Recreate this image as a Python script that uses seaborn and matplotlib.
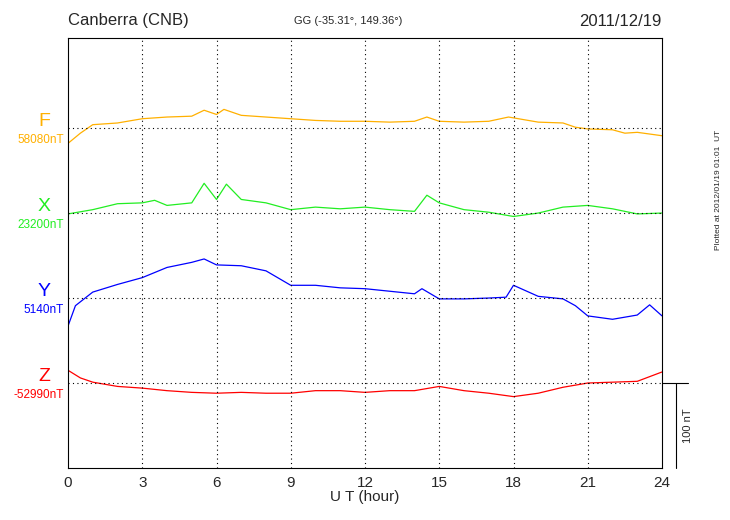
import matplotlib
matplotlib.use("Agg")
import matplotlib.pyplot as plt
import seaborn as sns
import pandas as pd

sns.set_style("white")
plt.rcParams['font.family'] = ['Liberation Sans', 'DejaVu Sans']

f_hours = [0,0.5,1,2,3,4,5,5.5,6,6.3,7,8,9,10,11,12,13,14,14.5,15,16,17,17.8,18,19,20,20.5,21,22,22.5,23,24]
f_vals = [-18,-6,4,6,11,13,14,21,16,22,15,13,11,9,8,8,7,8,13,8,7,8,13,12,7,6,1,-1,-2,-6,-5,-9]
x_hours = [0,1,2,3,3.5,4,5,5.5,6,6.4,7,8,9,10,11,12,13,14,14.5,15,16,17,18,19,20,21,22,23,24]
x_vals = [-1,4,11,12,15,9,12,35,16,34,16,12,4,7,5,7,4,2,21,12,4,1,-4,0,7,9,5,-1,0]
y_hours = [0,0.3,1,2,3,4,5,5.5,6,7,8,9,10,11,12,13,14,14.3,15,16,17,17.7,18,19,20,20.5,21,22,23,23.5,24]
y_vals = [-33,-9,7,16,24,36,42,46,39,38,32,15,15,12,11,8,5,11,-1,-1,0,1,15,2,-1,-9,-21,-25,-20,-8,-21]
z_hours = [0,0.5,1,2,3,4,5,6,7,8,9,10,11,12,13,14,15,16,17,18,19,20,21,22,23,24]
z_vals = [15,6,1,-4,-6,-9,-11,-12,-11,-12,-12,-9,-9,-11,-9,-9,-4,-9,-12,-16,-12,-5,0,1,2,13]

components = ["F", "X", "Y", "Z"]
baselines = ["58080nT", "23200nT", "5140nT", "-52990nT"]
colors = ["#ffb000", "#22ee22", "#0000ff", "#ff0000"]
offsets = [400, 300, 200, 100]
series = [(f_hours, f_vals), (x_hours, x_vals), (y_hours, y_vals), (z_hours, z_vals)]

fig = plt.figure(figsize=(7.3, 5.2), dpi=100)
ax = fig.add_axes([68/730, 52/520, 594/730, 430/520])
for (h, v), off, c in zip(series, offsets, colors):
    df = pd.DataFrame({"h": h, "v": [val + off for val in v]})
    sns.lineplot(data=df, x="h", y="v", color=c, lw=0.9, ax=ax)
    ax.axhline(off, color="black", ls=(0, (1, 3)), lw=0.8)
for xv in range(3, 24, 3):
    ax.axvline(xv, color="black", ls=(0, (1, 3)), lw=0.8)
ax.set_xlim(0, 24)
ax.set_ylim(0, 506)
ax.set_xticks(range(0, 25, 3))
ax.set_xticks(range(0, 25), minor=True)
ax.set_yticks(range(0, 507, 20))
ax.set_yticklabels([])
ax.tick_params(axis="both", which="both", direction="in", length=5, color="black", width=0.8)
ax.tick_params(axis="x", labelsize=11, pad=6)
ax.set_xlabel("U T (hour)", fontsize=11, labelpad=0)
ax.set_ylabel("")
for s in ax.spines.values():
    s.set_color("black"); s.set_linewidth(0.8)

for comp, base, c, off in zip(components, baselines, colors, offsets):
    y_fig = (52 + off * 430 / 506) / 520
    fig.text(44/730, y_fig + 7/520, comp, color=c, fontsize=14, ha="center", va="center")
    fig.text(64/730, y_fig - 12/520, base, color=c, fontsize=8.5, ha="right", va="center")

fig.text(68/730, 1 - 21/520, "Canberra (CNB)", fontsize=12, va="center")
fig.text(348/730, 1 - 21/520, "GG (-35.31°, 149.36°)", fontsize=8, ha="center", va="center")
fig.text(662/730, 1 - 21/520, "2011/12/19", fontsize=12, ha="right", va="center")

yz = (52 + 100 * 430 / 506) / 520
fig.add_artist(plt.Line2D([662/730, 688/730], [yz, yz], color="black", lw=0.8))
fig.add_artist(plt.Line2D([676/730, 676/730], [yz, 52/520], color="black", lw=0.8))
fig.text(688/730, (yz + 52/520) / 2, "100 nT", rotation=90, fontsize=8, ha="center", va="center")
fig.text(718/730, 330/520, "Plotted at 2012/01/19 01:01  UT", rotation=90, fontsize=6, ha="center", va="center")

fig.savefig("out.png", dpi=100)
